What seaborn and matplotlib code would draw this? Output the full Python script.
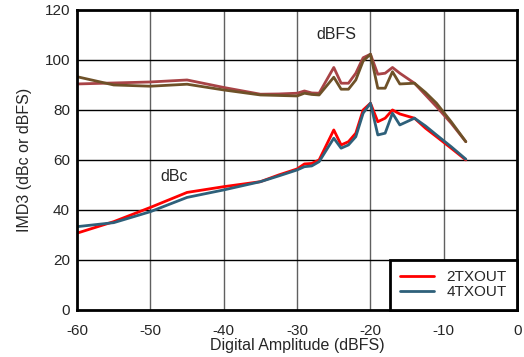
import matplotlib
matplotlib.use("Agg")
import matplotlib.pyplot as plt
import seaborn as sns
import pandas as pd

# ----------------------------
# Data
# ----------------------------
amplitude = [-60, -55, -50, -45, -40, -35, -32.5, -30, -29, -28, -27, -25, -24,
             -23, -22, -21, -20, -19, -18, -17, -16, -14, -12.5, -11, -9, -7]

tx2_dbfs = [90.4, 90.8, 91.2, 92.0, 89.0, 86.3, 86.4, 86.7, 87.6, 86.8, 86.7, 97.0, 90.7,
            90.7, 94.7, 100.9, 102.3, 94.3, 94.7, 97.0, 94.7, 90.7, 86.0, 81.3, 74.7, 67.3]
tx4_dbfs = [93.3, 90.0, 89.5, 90.3, 88.0, 86.0, 85.8, 85.6, 86.7, 86.2, 86.0, 93.1, 88.3,
            88.3, 92.0, 99.6, 102.3, 88.7, 88.7, 95.3, 90.4, 90.7, 87.0, 82.7, 75.3, 67.3]
tx2_dbc = [30.7, 35.3, 41.0, 47.0, 49.3, 51.3, 54.0, 56.4, 58.4, 58.6, 60.0, 72.0, 66.0,
           67.3, 70.7, 80.0, 82.7, 75.3, 76.7, 80.0, 78.4, 76.7, 72.7, 69.3, 64.7, 60.0]
tx4_dbc = [33.3, 34.9, 39.3, 45.0, 48.0, 51.3, 53.6, 56.0, 57.3, 57.6, 59.3, 68.7, 64.7,
           66.0, 69.3, 78.7, 82.7, 70.0, 70.7, 78.7, 74.0, 76.7, 73.6, 70.0, 65.3, 60.3]

x_ticks = [-60, -50, -40, -30, -20, -10, 0]
y_ticks = [0, 20, 40, 60, 80, 100, 120]

# ----------------------------
# Style
# ----------------------------
sns.set_style("white")
plt.rcParams["font.family"] = ["Liberation Sans", "DejaVu Sans"]
plt.rcParams["axes.unicode_minus"] = False

fig = plt.figure(figsize=(5.24, 3.57), dpi=100)
ax = fig.add_axes([0.147, 0.132, 0.840, 0.840])

df = pd.DataFrame({
    "x": amplitude,
    "tx2_dbfs": tx2_dbfs,
    "tx4_dbfs": tx4_dbfs,
    "tx2_dbc": tx2_dbc,
    "tx4_dbc": tx4_dbc,
})

# dBFS curves first, then dBc on top
sns.lineplot(data=df, x="x", y="tx2_dbfs", color="#A84346", lw=2, ax=ax)
sns.lineplot(data=df, x="x", y="tx4_dbfs", color="#6E5128", lw=2, ax=ax)
sns.lineplot(data=df, x="x", y="tx2_dbc", color="#FF0000", lw=2, ax=ax, label="2TXOUT")
sns.lineplot(data=df, x="x", y="tx4_dbc", color="#2E607A", lw=2, ax=ax, label="4TXOUT")

ax.set_xlim(-60, 0)
ax.set_ylim(0, 120)
ax.set_xticks(x_ticks)
ax.set_yticks(y_ticks)
ax.set_xlabel("Digital Amplitude (dBFS)", fontsize=11.5, labelpad=0)
ax.set_ylabel("IMD3 (dBc or dBFS)", fontsize=11.5, labelpad=9)
ax.tick_params(axis="both", labelsize=11, length=0)
ax.tick_params(axis="x", pad=10)
ax.tick_params(axis="y", pad=5)

# grid: vertical gray, horizontal black
for xv in x_ticks[1:-1]:
    ax.axvline(xv, color="#606060", lw=1, zorder=0)
for yv in y_ticks[1:-1]:
    ax.axhline(yv, color="black", lw=1, zorder=0)

for s in ax.spines.values():
    s.set_visible(True)
    s.set_color("black")
    s.set_linewidth(2)

ax.text(-24.7, 110, "dBFS", ha="center", va="center", fontsize=11.5)
ax.text(-46.7, 53.3, "dBc", ha="center", va="center", fontsize=11.5)

leg = ax.legend(loc="lower right", fontsize=11, frameon=True, fancybox=False,
                borderaxespad=0, handlelength=2.2, borderpad=0.7, labelspacing=0.05,
                handletextpad=0.8)
leg.get_frame().set_edgecolor("black")
leg.get_frame().set_linewidth(2)
leg.get_frame().set_alpha(1)

fig.savefig("out.png", dpi=100)
